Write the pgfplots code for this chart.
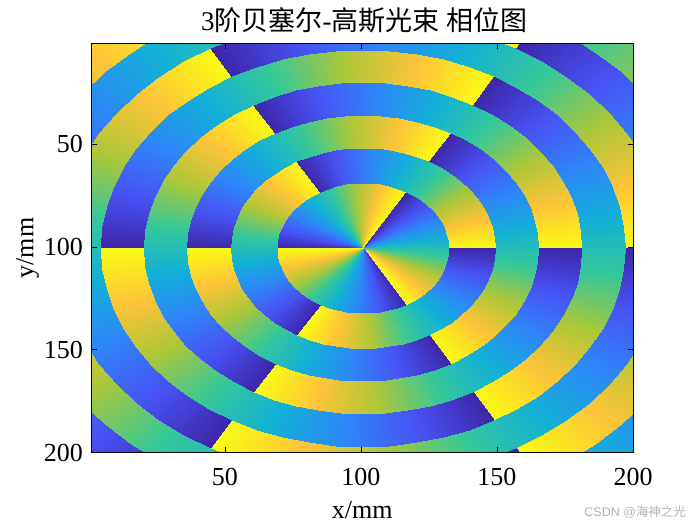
\documentclass[border=0pt]{standalone}
\usepackage{fontspec}
\usepackage{pgfplots}
\usepackage{pgfplotstable}
\pgfplotsset{compat=1.18}
\setmainfont{Liberation Serif}
\setsansfont{Liberation Sans}
\newfontfamily\cjk{Noto Sans CJK SC}

% one sector row per angle: a = angle (deg), t = 0 inner edge / 1 outer edge,
% pa = phase in the odd zones, pb = phase in the even zones
\pgfplotstableread{
a t pa pb
-180 0 -180 0
-174 0 -162 18
-168 0 -144 36
-162 0 -126 54
-156 0 -108 72
-150 0 -90 90
-144 0 -72 108
-138 0 -54 126
-132 0 -36 144
-126 0 -18 162
-120 0 0 180
-120 0 0 -180
-114 0 18 -162
-108 0 36 -144
-102 0 54 -126
-96 0 72 -108
-90 0 90 -90
-84 0 108 -72
-78 0 126 -54
-72 0 144 -36
-66 0 162 -18
-60 0 180 0
-60 0 -180 0
-54 0 -162 18
-48 0 -144 36
-42 0 -126 54
-36 0 -108 72
-30 0 -90 90
-24 0 -72 108
-18 0 -54 126
-12 0 -36 144
-6 0 -18 162
0 0 0 180
0 0 0 -180
6 0 18 -162
12 0 36 -144
18 0 54 -126
24 0 72 -108
30 0 90 -90
36 0 108 -72
42 0 126 -54
48 0 144 -36
54 0 162 -18
60 0 180 0
60 0 -180 0
66 0 -162 18
72 0 -144 36
78 0 -126 54
84 0 -108 72
90 0 -90 90
96 0 -72 108
102 0 -54 126
108 0 -36 144
114 0 -18 162
120 0 0 180
120 0 0 -180
126 0 18 -162
132 0 36 -144
138 0 54 -126
144 0 72 -108
150 0 90 -90
156 0 108 -72
162 0 126 -54
168 0 144 -36
174 0 162 -18
180 0 180 0
-180 1 -180 0
-174 1 -162 18
-168 1 -144 36
-162 1 -126 54
-156 1 -108 72
-150 1 -90 90
-144 1 -72 108
-138 1 -54 126
-132 1 -36 144
-126 1 -18 162
-120 1 0 180
-120 1 0 -180
-114 1 18 -162
-108 1 36 -144
-102 1 54 -126
-96 1 72 -108
-90 1 90 -90
-84 1 108 -72
-78 1 126 -54
-72 1 144 -36
-66 1 162 -18
-60 1 180 0
-60 1 -180 0
-54 1 -162 18
-48 1 -144 36
-42 1 -126 54
-36 1 -108 72
-30 1 -90 90
-24 1 -72 108
-18 1 -54 126
-12 1 -36 144
-6 1 -18 162
0 1 0 180
0 1 0 -180
6 1 18 -162
12 1 36 -144
18 1 54 -126
24 1 72 -108
30 1 90 -90
36 1 108 -72
42 1 126 -54
48 1 144 -36
54 1 162 -18
60 1 180 0
60 1 -180 0
66 1 -162 18
72 1 -144 36
78 1 -126 54
84 1 -108 72
90 1 -90 90
96 1 -72 108
102 1 -54 126
108 1 -36 144
114 1 -18 162
120 1 0 180
120 1 0 -180
126 1 18 -162
132 1 36 -144
138 1 54 -126
144 1 72 -108
150 1 90 -90
156 1 108 -72
162 1 126 -54
168 1 144 -36
174 1 162 -18
180 1 180 0
}\phasetable

% #1 inner radius, #2 outer radius, #3 phase column
\newcommand{\ringplot}[3]{
  \addplot[surf, shader=interp, mesh/cols=66, point meta=\thisrow{#3}]
    table[x expr={100.7+(#1+\thisrow{t}*(#2-#1))*cos(\thisrow{a})},
          y expr={100.6+(#1+\thisrow{t}*(#2-#1))*sin(\thisrow{a})}] {\phasetable};
}

\begin{document}
\begin{tikzpicture}[x=1pt,y=1pt]
  \path[use as bounding box] (-91.5,-72.5) rectangle (608.5,452.5);
  \begin{axis}[
    scale only axis,
    width=541.5pt,
    height=409pt,
    xmin=1, xmax=200,
    ymin=1, ymax=200,
    y dir=reverse,
    xtick={50,100,150,200},
    ytick={50,100,150,200},
    tick align=inside,
    tick style={black, line width=0.5pt},
    major tick length=5.5pt,
    axis line style={line width=0.7pt},
    axis on top,
    point meta min=-180, point meta max=180,
    colormap={parula}{
      rgb=(0.2422,0.1504,0.6603)
      rgb=(0.2810,0.3228,0.9579)
      rgb=(0.1786,0.5289,0.9682)
      rgb=(0.0689,0.6948,0.8394)
      rgb=(0.2161,0.7843,0.5923)
      rgb=(0.6720,0.7793,0.2227)
      rgb=(0.9970,0.7659,0.2199)
      rgb=(0.9769,0.9839,0.0805)
    },
    /pgf/number format/assume math mode=true,
    tick label style={font=\fontsize{26}{30}\selectfont},
    xticklabel style={yshift=-12pt},
    yticklabel style={xshift=-5pt},
    label style={font=\fontsize{26}{30}\selectfont},
    xlabel={x/mm},
    ylabel={y/mm},
    xlabel style={at={(axis description cs:0.5,0)}, anchor=north, yshift=-45pt},
    ylabel style={at={(axis description cs:0,0.5)}, anchor=south, yshift=49pt},
    title style={font=\fontsize{27}{32}\selectfont, yshift=1pt, xshift=2pt},
    title={3{\cjk 阶贝塞尔}-{\cjk 高斯光束} {\cjk 相位图}},
    ]
    \ringplot{0}{31.7}{pa}
    \ringplot{31.7}{48.8}{pb}
    \ringplot{48.8}{64.8}{pa}
    \ringplot{64.8}{80.7}{pb}
    \ringplot{80.7}{96.6}{pa}
    \ringplot{96.6}{112.3}{pb}
    \ringplot{112.3}{128}{pa}
    \ringplot{128}{143.7}{pb}
  \end{axis}
  \node[anchor=east, text=gray!60, font=\sffamily\fontsize{12.5}{14}\selectfont] at (598,-60) {CSDN @{\cjk 海神之光}};
\end{tikzpicture}
\end{document}
